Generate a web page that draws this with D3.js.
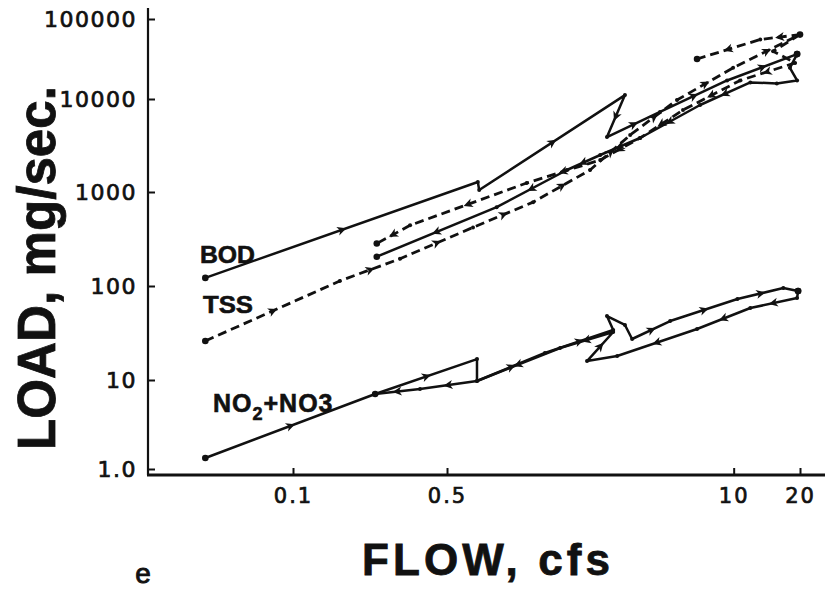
<!DOCTYPE html>
<html>
<head>
<meta charset="utf-8">
<script src="https://cdn.jsdelivr.net/npm/d3@7"></script>
<style>
  body { margin: 0; background: #fff; }
  svg { display: block; }
</style>
</head>
<body>
<svg id="chart" width="827" height="594"></svg>
<script>
// Load versus flow during a storm event: each series is a time-ordered
// list of [flow (cfs), load (mg/sec)] pairs, split into rising and falling limbs.
const flowTicks = [0.1, 0.5, 10, 20];
const flowTickLabels = ["0.1", "0.5", "10", "20"];
const loadTicks = [1, 10, 100, 1000, 10000, 100000];
const loadTickLabels = ["1.0", "10", "100", "1000", "10000", "100000"];
const seriesNames = ["BOD", "TSS", "NO2+NO3"];

const bodRise = [[0.04, 122], [0.69, 1281], [0.70, 1051], [3.21, 11190], [2.66, 3902],
                 [4.63, 7250], [9.33, 17050], [19.4, 36390]];
const bodFall = [[19.4, 36390], [18.0, 24550], [19.4, 17050], [15.7, 15670], [11.9, 16120],
                 [7.04, 8620], [3.76, 3807], [2.48, 2500], [1.75, 1724], [0.84, 690], [0.24, 205]];

const tssRise = [[0.04, 26], [0.163, 113], [0.306, 195], [0.656, 420], [1.23, 780],
                 [2.23, 1724], [3.39, 4100], [5.53, 9750], [9.94, 24550], [20, 63800],
                 [13.2, 55460], [6.82, 31620]];
const tssFall = [[20, 63800], [15.1, 39590], [19.0, 28260], [10.7, 17050], [5.89, 7615],
                 [3.76, 3807], [2.48, 2210], [1.15, 1249], [0.34, 442], [0.24, 283]];

const no3Rise = [[0.04, 1.33], [0.236, 6.96], [0.684, 16.7], [0.684, 9.75], [1.39, 19.4],
                 [2.84, 34.0], [2.66, 47.9], [3.21, 38.5], [3.46, 27.3], [5.15, 42.4],
                 [10.4, 72.7], [16.8, 95.2], [19.6, 88.4]];
const no3Fall = [[19.6, 88.4], [19.4, 74.5], [11.9, 58.3], [6.82, 34.9], [2.96, 18.0],
                 [2.16, 15.9], [2.84, 32.4], [1.63, 21.9], [0.684, 9.75], [0.377, 7.92],
                 [0.236, 6.96]];

const svg = d3.select("#chart");
const frame = { left: 148, top: 8, right: 825, bottom: 475 };

const x = d3.scaleLog().domain([0.1, 20]).range([293, 800]);
// Hand-ruled log paper: each decade gets its own span.
const y = d3.scaleLog().domain(loadTicks).range([469, 380, 286, 192, 99, 19]);

const ink = "#111";

// Axis lines
svg.append("line")
  .attr("x1", frame.left).attr("x2", frame.left)
  .attr("y1", frame.top).attr("y2", frame.bottom)
  .attr("stroke", ink).attr("stroke-width", 2.2);
svg.append("line")
  .attr("x1", frame.left - 1).attr("x2", frame.right)
  .attr("y1", frame.bottom).attr("y2", frame.bottom)
  .attr("stroke", ink).attr("stroke-width", 3);

const yAxis = d3.axisLeft(y)
  .tickValues(loadTicks)
  .tickFormat((d, i) => loadTickLabels[i])
  .tickSizeInner(-7).tickSizeOuter(0).tickPadding(11);
svg.append("g")
  .attr("transform", `translate(${frame.left},0)`)
  .call(yAxis)
  .call(g => g.select(".domain").remove())
  .call(g => g.selectAll(".tick line").attr("stroke", ink).attr("stroke-width", 2))
  .call(g => g.selectAll(".tick text")
    .attr("fill", ink)
    .attr("stroke", ink).attr("stroke-width", 0.7)
    .attr("font-family", "DejaVu Sans, sans-serif")
    .attr("font-size", 22)
    .attr("letter-spacing", 1.5));

const xAxis = d3.axisBottom(x)
  .tickValues(flowTicks)
  .tickFormat((d, i) => flowTickLabels[i])
  .tickSizeInner(-7).tickSizeOuter(0).tickPadding(13);
svg.append("g")
  .attr("transform", `translate(0,${frame.bottom})`)
  .call(xAxis)
  .call(g => g.select(".domain").remove())
  .call(g => g.selectAll(".tick line").attr("stroke", ink).attr("stroke-width", 2))
  .call(g => g.selectAll(".tick text")
    .attr("fill", ink)
    .attr("stroke", ink).attr("stroke-width", 0.7)
    .attr("font-family", "DejaVu Sans, sans-serif")
    .attr("font-size", 21)
    .attr("letter-spacing", 2));

// Axis titles
svg.append("text")
  .attr("transform", "translate(55,450) rotate(-90)")
  .attr("font-family", "Liberation Sans, Arial, sans-serif")
  .attr("font-weight", "bold")
  .attr("font-size", 54)
  .attr("textLength", 364)
  .attr("lengthAdjust", "spacingAndGlyphs")
  .attr("stroke", ink).attr("stroke-width", 0.8)
  .attr("fill", ink)
  .text("LOAD, mg/sec.");

svg.append("text")
  .attr("x", 362).attr("y", 575)
  .attr("font-family", "Liberation Sans, Arial, sans-serif")
  .attr("font-weight", "bold")
  .attr("font-size", 44)
  .attr("textLength", 248)
  .attr("lengthAdjust", "spacing")
  .attr("stroke", ink).attr("stroke-width", 0.8)
  .attr("fill", ink)
  .text("FLOW, cfs");

svg.append("text")
  .attr("x", 143).attr("y", 583)
  .attr("text-anchor", "middle")
  .attr("font-family", "Liberation Sans, Arial, sans-serif")
  .attr("font-size", 28)
  .attr("stroke", ink).attr("stroke-width", 0.9)
  .attr("fill", ink)
  .text("e");

// Series traces
const line = d3.line().x(d => x(d[0])).y(d => y(d[1]));
const traces = [
  { data: bodRise, dash: null },
  { data: bodFall, dash: null },
  { data: tssRise, dash: "9,5" },
  { data: tssFall, dash: "9,5" },
  { data: no3Rise, dash: null },
  { data: no3Fall, dash: null }
];

const plot = svg.append("g");
traces.forEach(t => {
  plot.append("path")
    .datum(t.data)
    .attr("d", line)
    .attr("fill", "none")
    .attr("stroke", ink)
    .attr("stroke-width", t.dash ? 2.8 : 2.5)
    .attr("stroke-linejoin", "round")
    .attr("stroke-dasharray", t.dash);
});

// Direction arrowheads at the middle of longer segments
const arrowShape = "M5,0 L-4,-4.5 L-1.5,0 L-4,4.5 Z";
traces.forEach(t => {
  const pts = t.data.map(d => [x(d[0]), y(d[1])]);
  const segs = d3.pairs(pts).filter(([a, b]) => Math.hypot(b[0] - a[0], b[1] - a[1]) > 32);
  plot.selectAll(null)
    .data(segs)
    .join("path")
    .attr("d", arrowShape)
    .attr("fill", ink)
    .attr("transform", ([a, b]) => {
      const mx = (a[0] + b[0]) / 2, my = (a[1] + b[1]) / 2;
      const ang = Math.atan2(b[1] - a[1], b[0] - a[0]) * 180 / Math.PI;
      return `translate(${mx},${my}) rotate(${ang})`;
    });
});

// Observation dots
traces.forEach(t => {
  plot.selectAll(null)
    .data(t.data)
    .join("circle")
    .attr("cx", d => x(d[0]))
    .attr("cy", d => y(d[1]))
    .attr("r", (d, i) => (i === 0 || i === t.data.length - 1) ? 3.3 : 2)
    .attr("fill", ink);
});

// Series labels
const labelFont = "Liberation Sans, Arial, sans-serif";
svg.append("text")
  .attr("x", 200).attr("y", 263)
  .attr("font-family", labelFont).attr("font-weight", "bold")
  .attr("font-size", 24).attr("textLength", 55).attr("lengthAdjust", "spacingAndGlyphs")
  .attr("stroke", ink).attr("stroke-width", 0.6)
  .attr("fill", ink)
  .text(seriesNames[0]);
svg.append("text")
  .attr("x", 203).attr("y", 313)
  .attr("font-family", labelFont).attr("font-weight", "bold")
  .attr("font-size", 24).attr("textLength", 50).attr("lengthAdjust", "spacingAndGlyphs")
  .attr("stroke", ink).attr("stroke-width", 0.6)
  .attr("fill", ink)
  .text(seriesNames[1]);

const no3Label = svg.append("text")
  .attr("x", 213).attr("y", 412)
  .attr("font-family", labelFont).attr("font-weight", "bold")
  .attr("font-size", 25).attr("letter-spacing", 1)
  .attr("stroke", ink).attr("stroke-width", 0.6)
  .attr("fill", ink);
const [pre, post] = seriesNames[2].split("2+");
no3Label.append("tspan").text(pre);
no3Label.append("tspan").attr("dy", 8).attr("font-size", 18).text("2");
no3Label.append("tspan").attr("dy", -8).text("+" + post);
</script>
</body>
</html>
